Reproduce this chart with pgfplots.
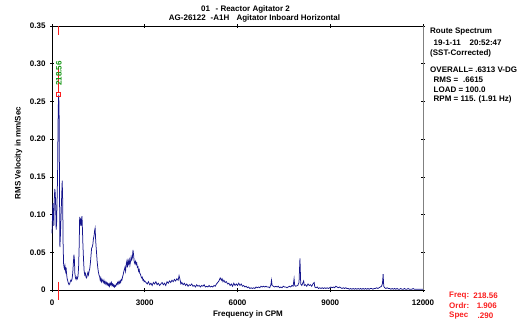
\documentclass[border=0pt]{standalone}
\usepackage{fontspec}
\setmainfont{Liberation Sans}
\usepackage{pgfplots}
\pgfplotsset{compat=1.18}
\definecolor{trace}{RGB}{20,20,140}
\definecolor{cred}{RGB}{250,30,30}
\definecolor{cgreen}{RGB}{20,150,20}
\newcommand{\lbl}{\bfseries\fontsize{8}{9.6}\selectfont}
\begin{document}
\begin{tikzpicture}[x=1pt,y=1pt]
\path[use as bounding box] (0,0) rectangle (529,325);
\begin{axis}[at={(52pt,35pt)}, anchor=south west, scale only axis,
  width=371pt, height=264pt,
  xmin=0, xmax=12000, ymin=0, ymax=0.35,
  clip=false,
  scaled x ticks=false, scaled y ticks=false,
  axis line style={black, line width=0.9pt},
  xtick={0,3000,6000,9000,12000},
  xticklabels={0,3000,6000,9000,12000},
  ytick={0,0.05,0.10,0.15,0.20,0.25,0.30,0.35},
  yticklabels={0,0.05,0.10,0.15,0.20,0.25,0.30,0.35},
  tick align=center, major tick length=4pt,
  tick style={black, line width=0.6pt},
  ticklabel style={font=\lbl},
  /pgf/number format/assume math mode=true,
  xticklabel style={yshift=-4pt},
  yticklabel style={xshift=-1pt},
]
\addplot[trace, line width=0.75pt] table {
x y
0 0.075
15 0.095
30 0.115
45 0.100
60 0.085
75 0.120
90 0.134
105 0.128
120 0.110
135 0.080
150 0.090
165 0.120
180 0.150
195 0.220
210 0.255
218.56 0.259
230 0.235
245 0.120
255 0.057
270 0.070
290 0.095
310 0.120
330 0.145
345 0.120
360 0.060
375 0.035
390 0.030
405 0.028
420 0.032
440 0.025
455 0.030
470 0.022
490 0.015
510 0.012
530 0.009
550 0.007
570 0.008
590 0.011
610 0.013
630 0.012
650 0.015
670 0.022
690 0.035
710 0.047
725 0.040
740 0.022
760 0.016
780 0.014
800 0.017
820 0.015
840 0.018
860 0.030
880 0.060
895 0.097
910 0.090
925 0.095
940 0.085
955 0.093
970 0.098
985 0.080
1000 0.060
1020 0.040
1040 0.025
1060 0.020
1080 0.022
1100 0.017
1120 0.016
1140 0.020
1160 0.023
1180 0.020
1200 0.025
1220 0.028
1240 0.035
1260 0.045
1280 0.055
1300 0.057
1320 0.060
1340 0.068
1360 0.072
1380 0.079
1395 0.082
1410 0.068
1425 0.058
1440 0.050
1460 0.038
1480 0.030
1500 0.024
1520 0.020
1540 0.018
1560 0.013
1580 0.016
1600 0.011
1620 0.014
1640 0.012
1660 0.010
1680 0.013
1700 0.009
1720 0.011
1740 0.008
1760 0.010
1780 0.007
1800 0.009
1820 0.006
1840 0.008
1860 0.005
1880 0.009
1900 0.007
1920 0.010
1940 0.006
1960 0.008
1980 0.005
2000 0.007
2020 0.004
2040 0.006
2060 0.005
2080 0.008
2100 0.007
2120 0.010
2140 0.008
2160 0.011
2180 0.009
2200 0.012
2220 0.010
2240 0.014
2260 0.013
2280 0.017
2300 0.020
2320 0.024
2340 0.027
2360 0.030
2380 0.025
2400 0.034
2420 0.038
2440 0.030
2460 0.039
2480 0.035
2500 0.040
2520 0.033
2540 0.038
2560 0.044
2580 0.040
2600 0.043
2620 0.053
2640 0.046
2660 0.037
2680 0.035
2700 0.038
2720 0.034
2740 0.036
2760 0.030
2780 0.031
2800 0.025
2820 0.027
2840 0.022
2860 0.021
2880 0.018
2900 0.016
2920 0.017
2940 0.013
2960 0.014
2980 0.011
3000 0.012
3040 0.010
3080 0.008
3120 0.011
3160 0.007
3200 0.009
3240 0.006
3280 0.010
3320 0.008
3360 0.011
3400 0.007
3440 0.009
3480 0.006
3520 0.008
3560 0.010
3600 0.007
3640 0.009
3680 0.006
3720 0.011
3760 0.009
3800 0.012
3840 0.010
3880 0.013
3920 0.011
3960 0.014
4000 0.012
4040 0.015
4080 0.013
4110 0.019
4140 0.014
4170 0.008
4200 0.010
4240 0.007
4280 0.009
4320 0.006
4360 0.008
4400 0.005
4440 0.007
4480 0.006
4520 0.008
4560 0.005
4600 0.006
4640 0.004
4680 0.007
4720 0.005
4760 0.006
4800 0.004
4840 0.006
4880 0.005
4920 0.007
4960 0.004
5000 0.005
5040 0.004
5080 0.006
5120 0.004
5160 0.005
5200 0.004
5240 0.006
5280 0.005
5320 0.008
5360 0.010
5400 0.012
5440 0.016
5480 0.013
5500 0.015
5530 0.011
5560 0.013
5600 0.010
5640 0.011
5680 0.008
5720 0.009
5760 0.006
5800 0.008
5840 0.005
5880 0.009
5920 0.006
5960 0.008
6000 0.006
6040 0.009
6080 0.006
6120 0.008
6160 0.005
6200 0.006
6240 0.004
6280 0.005
6320 0.003
6360 0.004
6400 0.002
6440 0.003
6480 0.002
6520 0.003
6560 0.002
6600 0.004
6640 0.003
6680 0.004
6720 0.003
6760 0.005
6800 0.004
6840 0.005
6880 0.004
6920 0.005
6960 0.004
7000 0.004
7040 0.003
7080 0.007
7100 0.013
7120 0.006
7160 0.005
7200 0.004
7240 0.005
7280 0.004
7320 0.005
7360 0.003
7400 0.004
7440 0.003
7480 0.005
7520 0.004
7560 0.004
7600 0.003
7640 0.004
7680 0.005
7720 0.004
7760 0.006
7800 0.005
7830 0.015
7850 0.006
7880 0.005
7950 0.006
7990 0.010
8020 0.042
8045 0.008
8080 0.006
8110 0.009
8140 0.012
8160 0.006
8200 0.007
8240 0.005
8280 0.008
8320 0.006
8360 0.007
8400 0.005
8440 0.008
8480 0.010
8500 0.004
8540 0.003
8580 0.004
8620 0.002
8660 0.003
8700 0.002
8740 0.003
8780 0.002
8820 0.003
8860 0.002
8900 0.003
8940 0.002
8980 0.003
9020 0.004
9060 0.003
9100 0.004
9140 0.003
9180 0.005
9220 0.004
9260 0.003
9300 0.004
9340 0.003
9380 0.002
9420 0.003
9460 0.002
9500 0.003
9540 0.002
9580 0.002
9620 0.001
9660 0.002
9700 0.001
9740 0.002
9780 0.001
9820 0.002
9860 0.001
9900 0.002
9940 0.001
9980 0.002
10020 0.001
10060 0.002
10100 0.001
10140 0.002
10180 0.001
10220 0.002
10260 0.001
10300 0.002
10340 0.002
10380 0.001
10420 0.002
10460 0.002
10500 0.003
10540 0.002
10580 0.003
10620 0.004
10660 0.005
10690 0.009
10710 0.021
10730 0.005
10760 0.003
10800 0.002
10840 0.003
10880 0.002
10920 0.002
10960 0.001
11000 0.002
11040 0.001
11080 0.002
11120 0.001
11160 0.002
11200 0.001
11240 0.001
11280 0.002
11320 0.001
11360 0.001
11400 0.002
11440 0.001
11480 0.001
11520 0.002
11560 0.001
11600 0.001
11640 0.001
11680 0.002
11720 0.001
11760 0.001
11800 0.001
11840 0.001
11880 0.001
11920 0.001
11960 0.001
12000 0.001
};
% right axis gray
\draw[gray, line width=1pt] (rel axis cs:1,0) -- (rel axis cs:1,1);
% cursor
\addplot[cred, line width=0.7pt] coordinates {(218.56,0.350) (218.56,0.338)};
\addplot[cred, line width=0.7pt] coordinates {(218.56,0.011) (218.56,-0.013)};
\addplot[cred, line width=0.7pt] coordinates {(218.56,0.261) (218.56,0.296)};
\addplot[cred, only marks, mark=square, mark size=2pt, mark options={line width=0.7pt}] coordinates {(218.56,0.259)};
\node[rotate=90, anchor=west, text=cgreen, font=\lbl, inner sep=0pt, xshift=2pt] at (axis cs:218.56,0.268) {218.56};
\end{axis}
% titles and labels
\node[font=\lbl] at (245.5,315.5) {01\hspace{0.7em}- Reactor Agitator 2};
\node[font=\lbl] at (254.5,306.5) {AG-26122\hspace{0.6em}-A1H\hspace{0.9em}Agitator Inboard Horizontal};
\node[font=\lbl] at (248,10.5) {Frequency in CPM};
\node[font=\lbl, rotate=90] at (18.5,172) {RMS Velocity in mm/Sec};
% right info block
\begin{scope}[every node/.style={font=\lbl, anchor=west, inner sep=0pt}]
\node at (430,293.5) {Route Spectrum};
\node at (433.5,282.5) {19-1-11\hspace{1.1em}20:52:47};
\node at (430,271.5) {(SST-Corrected)};
\node at (430,255.5) {OVERALL= .6313 V-DG};
\node at (433.5,245.5) {RMS =\hspace{0.6em}.6615};
\node at (433.5,235.5) {LOAD = 100.0};
\node at (433.5,225.5) {RPM = 115. (1.91 Hz)};
\end{scope}
\begin{scope}[every node/.style={font=\lbl, text=cred, inner sep=0pt}]
\node[anchor=west] at (449,29) {Freq:};
\node[anchor=west] at (449,19) {Ordr:};
\node[anchor=west] at (449,9) {Spec};
\node[anchor=east] at (498,29) {218.56};
\node[anchor=east] at (497,19) {1.906};
\node[anchor=east] at (493.5,9) {.290};
\end{scope}
\end{tikzpicture}
\end{document}
